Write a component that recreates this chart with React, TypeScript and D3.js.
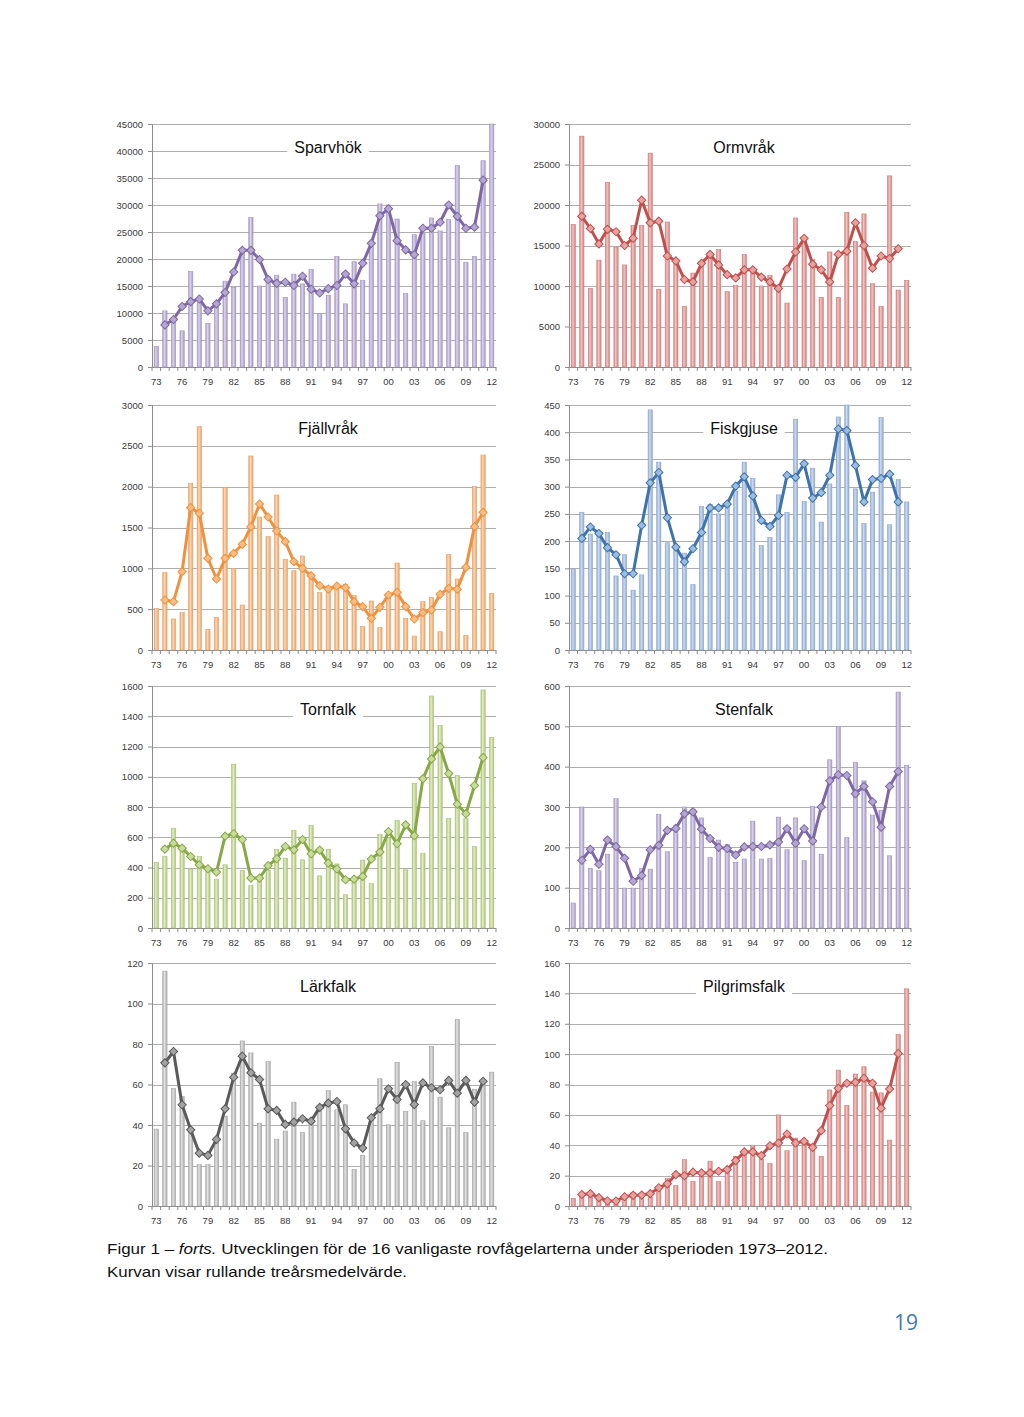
import { useEffect, useRef } from "react";
import * as d3 from "d3";

// Years 1973–2012, bars for every year; the rolling three-year mean runs 1974–2011
const YEARS = [
  1973, 1974, 1975, 1976, 1977, 1978, 1979, 1980, 1981, 1982,
  1983, 1984, 1985, 1986, 1987, 1988, 1989, 1990, 1991, 1992,
  1993, 1994, 1995, 1996, 1997, 1998, 1999, 2000, 2001, 2002,
  2003, 2004, 2005, 2006, 2007, 2008, 2009, 2010, 2011, 2012,
];
const LINE_YEARS = YEARS.slice(1, -1);

const SPARVHOK_BARS = [
  3800, 10400, 9200, 6700, 17700, 11900, 8100, 11200, 15900, 14800,
  22000, 27700, 15000, 16800, 17000, 12900, 17200, 15400, 18100, 9900,
  13300, 20500, 11700, 19500, 16000, 22300, 30200, 30000, 27400, 13600,
  24500, 24700, 27600, 25200, 27300, 37300, 19400, 20500, 38200, 45000,
];
const SPARVHOK_LINE = [
  7800, 8800, 11200, 12100, 12600, 10400, 11700, 13800, 17600, 21600,
  21600, 19900, 16200, 15500, 15700, 15100, 16800, 14400, 13700, 14500,
  15100, 17200, 15400, 19200, 22900, 28000, 29300, 23400, 21700, 20800,
  25700, 25700, 26800, 30000, 27900, 25700, 25900, 34600,
];
const SPARVHOK_TICKS = [0, 5000, 10000, 15000, 20000, 25000, 30000, 35000, 40000, 45000];

const ORMVRAK_BARS = [
  17600, 28500, 9700, 13200, 22800, 14800, 12600, 17500, 17500, 26400,
  9600, 17900, 13300, 7500, 11600, 12400, 14000, 14500, 9300, 10100,
  13900, 11800, 10000, 11300, 9900, 7900, 18400, 16000, 13300, 8600,
  14200, 8600, 19100, 15500, 18900, 10300, 7500, 23600, 9500, 10700,
];
const ORMVRAK_LINE = [
  18600, 17100, 15200, 17000, 16700, 15000, 15900, 20600, 17800, 18000,
  13700, 13100, 10800, 10500, 12800, 13900, 12600, 11400, 11000, 12000,
  12000, 11100, 10500, 9700, 12100, 14200, 15900, 12700, 12000, 10500,
  13900, 14300, 17800, 15000, 12200, 13700, 13400, 14600,
];
const ORMVRAK_TICKS = [0, 5000, 10000, 15000, 20000, 25000, 30000];

const FJALLVRAK_BARS = [
  510, 947, 380, 457, 2040, 2735, 253, 400, 1992, 1000,
  551, 2376, 1629, 1388, 1898, 1110, 971, 1151, 878, 702,
  760, 767, 800, 665, 290, 600, 278, 667, 1065, 388,
  171, 592, 645, 224, 1171, 870, 180, 2000, 2388, 694,
];
const FJALLVRAK_LINE = [
  612, 592, 959, 1743, 1673, 1122, 869, 1122, 1184, 1294,
  1510, 1788, 1629, 1457, 1327, 1082, 1000, 910, 788, 747,
  784, 763, 592, 531, 388, 522, 673, 706, 531, 380,
  457, 490, 682, 755, 743, 1012, 1510, 1686,
];
const FJALLVRAK_TICKS = [0, 500, 1000, 1500, 2000, 2500, 3000];

const FISKGJUSE_BARS = [
  149, 253, 213, 212, 216, 136, 175, 110, 138, 441,
  345, 197, 187, 178, 120, 264, 267, 250, 269, 291,
  345, 315, 192, 207, 285, 253, 424, 273, 334, 235,
  305, 428, 485, 296, 232, 290, 427, 230, 313, 272,
];
const FISKGJUSE_LINE = [
  205, 226, 214, 188, 175, 140, 140, 229, 307, 326,
  243, 189, 162, 186, 216, 261, 261, 268, 301, 318,
  283, 238, 227, 247, 321, 317, 342, 279, 289, 321,
  406, 403, 339, 272, 313, 315, 323, 272,
];
const FISKGJUSE_TICKS = [0, 50, 100, 150, 200, 250, 300, 350, 400, 450];

const TORNFALK_BARS = [
  434, 473, 660, 540, 390, 473, 391, 323, 418, 1083,
  381, 282, 327, 381, 521, 462, 645, 451, 678, 345,
  521, 424, 220, 316, 449, 293, 620, 599, 711, 385,
  957, 495, 1534, 1338, 726, 1008, 723, 539, 1574, 1261,
];
const TORNFALK_LINE = [
  522, 561, 528, 473, 418, 392, 370, 607, 623, 585,
  330, 330, 412, 458, 539, 517, 585, 491, 515, 429,
  390, 319, 323, 341, 456, 502, 638, 557, 682, 610,
  986, 1118, 1197, 1021, 819, 755, 942, 1127,
];
const TORNFALK_TICKS = [0, 200, 400, 600, 800, 1000, 1200, 1400, 1600];

const STENFALK_BARS = [
  62, 300, 148, 142, 183, 321, 99, 99, 147, 146,
  282, 189, 255, 300, 294, 273, 175, 218, 207, 163,
  171, 265, 171, 173, 275, 194, 273, 167, 302, 183,
  417, 499, 224, 411, 365, 280, 292, 179, 585, 403,
];
const STENFALK_LINE = [
  168, 195, 158, 218, 202, 173, 116, 130, 194, 205,
  242, 247, 283, 288, 245, 222, 200, 197, 181, 201,
  202, 202, 206, 213, 246, 210, 246, 216, 300, 365,
  380, 378, 333, 351, 313, 250, 351, 388,
];
const STENFALK_TICKS = [0, 100, 200, 300, 400, 500, 600];

const LARKFALK_BARS = [
  38, 116, 58, 54, 38, 20.5, 20.4, 34, 44.4, 65.6,
  81.5, 75.6, 40.9, 71.3, 33, 37, 51.3, 36.2, 41.5, 47,
  57, 47.5, 50, 18.1, 25, 43, 62.8, 40.1, 71, 46.7,
  61.5, 42.1, 78.9, 53.8, 38.6, 92.1, 36.2, 57.7, 60, 66.1,
];
const LARKFALK_LINE = [
  70.7, 76.3, 50.0, 37.6, 26.1, 25.0, 32.9, 48.0, 63.6, 74.0,
  65.8, 62.5, 48.0, 47.2, 40.3, 41.4, 43.1, 41.9, 48.7, 50.8,
  51.6, 38.1, 31.1, 28.6, 43.6, 48.0, 57.9, 52.6, 60.0, 50.1,
  60.8, 58.4, 57.4, 62.0, 55.7, 62.0, 51.3, 61.6,
];
const LARKFALK_TICKS = [0, 20, 40, 60, 80, 100, 120];

const PILGRIMSFALK_BARS = [
  5, 8, 9, 5, 1.5, 3, 5, 9, 6, 6,
  12, 18, 13.5, 30.5, 16.2, 19.7, 29.5, 16.2, 23, 32.8,
  34, 40, 31, 28.1, 60, 36.4, 44.7, 43.4, 39.7, 32.7,
  76.4, 89.5, 66.2, 86.9, 91.7, 75, 74.5, 43.4, 113.1, 143,
];
const PILGRIMSFALK_LINE = [
  7.6, 8.1, 5.5, 3.3, 3.3, 6.1, 7.0, 7.2, 8.1, 12.0,
  14.6, 20.7, 19.9, 22.3, 21.8, 21.8, 22.9, 24.0, 29.9, 35.6,
  35.6, 33.2, 39.7, 41.5, 47.4, 41.5, 42.6, 38.6, 49.6, 66.2,
  77.5, 80.8, 81.4, 84.1, 80.8, 64.4, 77.1, 100.4,
];
const PILGRIMSFALK_TICKS = [0, 20, 40, 60, 80, 100, 120, 140, 160];

// page layout (plot area edges in px)
const COLS = [
  { left: 152, right: 496 },
  { left: 569, right: 911 },
];
const ROWS = [
  { top: 124, bottom: 367 },
  { top: 405, bottom: 650 },
  { top: 686, bottom: 928 },
  { top: 963, bottom: 1206 },
];

const PURPLE = { fill: "#dcd5ea", edge: "#a497c4", stroke: "#7e67a6", marker: "#b4a8d2" };
const RED = { fill: "#f3c4c3", edge: "#d0807d", stroke: "#c0504d", marker: "#e6a3a1" };

interface PanelDef {
  id: string;
  title: string;
  bars: number[];
  line: number[];
  ticks: number[];
  col: number;
  row: number;
  colors: { fill: string; edge: string; stroke: string; marker: string };
}

const PANELS: PanelDef[] = [
  { id: "sparv", title: "Sparvhök", bars: SPARVHOK_BARS, line: SPARVHOK_LINE, ticks: SPARVHOK_TICKS, col: 0, row: 0, colors: PURPLE },
  { id: "ormv", title: "Ormvråk", bars: ORMVRAK_BARS, line: ORMVRAK_LINE, ticks: ORMVRAK_TICKS, col: 1, row: 0, colors: RED },
  {
    id: "fjall", title: "Fjällvråk", bars: FJALLVRAK_BARS, line: FJALLVRAK_LINE, ticks: FJALLVRAK_TICKS, col: 0, row: 1,
    colors: { fill: "#fad8b8", edge: "#e9a165", stroke: "#f0913d", marker: "#f8bd86" },
  },
  {
    id: "fisk", title: "Fiskgjuse", bars: FISKGJUSE_BARS, line: FISKGJUSE_LINE, ticks: FISKGJUSE_TICKS, col: 1, row: 1,
    colors: { fill: "#cddaee", edge: "#8ea9d0", stroke: "#3f73ae", marker: "#9dbde0" },
  },
  {
    id: "torn", title: "Tornfalk", bars: TORNFALK_BARS, line: TORNFALK_LINE, ticks: TORNFALK_TICKS, col: 0, row: 2,
    colors: { fill: "#e3edcc", edge: "#abc475", stroke: "#88a846", marker: "#c8dc9e" },
  },
  { id: "sten", title: "Stenfalk", bars: STENFALK_BARS, line: STENFALK_LINE, ticks: STENFALK_TICKS, col: 1, row: 2, colors: PURPLE },
  {
    id: "lark", title: "Lärkfalk", bars: LARKFALK_BARS, line: LARKFALK_LINE, ticks: LARKFALK_TICKS, col: 0, row: 3,
    colors: { fill: "#e3e3e3", edge: "#a8a8a8", stroke: "#5a5a5a", marker: "#a3a3a3" },
  },
  { id: "pilg", title: "Pilgrimsfalk", bars: PILGRIMSFALK_BARS, line: PILGRIMSFALK_LINE, ticks: PILGRIMSFALK_TICKS, col: 1, row: 3, colors: RED },
];

const TICK_FONT = "'Liberation Sans', Arial, sans-serif";

function Panel({ def }: { def: PanelDef }) {
  const ref = useRef<SVGGElement>(null);

  useEffect(() => {
    if (!ref.current) return;
    const g = d3.select(ref.current);
    g.selectAll("*").remove();

    const { left, right } = COLS[def.col];
    const { top, bottom } = ROWS[def.row];
    const c = def.colors;

    const x = d3
      .scaleBand<number>()
      .domain(YEARS)
      .range([left, right])
      .paddingInner(0.5)
      .paddingOuter(0.25);
    const cx = (yr: number) => (x(yr) ?? 0) + x.bandwidth() / 2;

    const y = d3
      .scaleLinear()
      .domain([0, def.ticks[def.ticks.length - 1]])
      .range([bottom, top])
      .clamp(true);

    // bar gradient (Excel-ish cylinder look)
    const gradId = `bar-grad-${def.id}`;
    const grad = g.append("defs").append("linearGradient")
      .attr("id", gradId)
      .attr("x1", "0").attr("y1", "0")
      .attr("x2", "1").attr("y2", "0");
    grad.append("stop").attr("offset", "0%").attr("stop-color", c.edge);
    grad.append("stop").attr("offset", "40%").attr("stop-color", c.fill);
    grad.append("stop").attr("offset", "100%").attr("stop-color", c.edge);

    // grid lines
    g.append("g")
      .selectAll("line")
      .data(def.ticks.filter((t) => t > 0))
      .join("line")
      .attr("x1", left)
      .attr("x2", right)
      .attr("y1", (d) => Math.round(y(d)) + 0.5)
      .attr("y2", (d) => Math.round(y(d)) + 0.5)
      .attr("stroke", "#a6a6a6")
      .attr("stroke-width", 0.9);

    // y axis
    g.append("g")
      .attr("transform", `translate(${left},0)`)
      .call(d3.axisLeft(y).tickValues(def.ticks).tickSize(4).tickPadding(5).tickFormat((d) => String(d)))
      .call((ax) => ax.select(".domain").attr("stroke", "#8c8c8c"))
      .call((ax) => ax.selectAll("line").attr("stroke", "#8c8c8c"))
      .call((ax) =>
        ax.selectAll("text").attr("fill", "#3a3a3a").attr("font-size", 9.5).attr("font-family", TICK_FONT),
      );

    // x axis: boundary ticks + labels every third year
    const step = x.step();
    const bounds = YEARS.map((yr) => (x(yr) ?? 0) - step * 0.25).concat([right]);
    const xa = g.append("g");
    xa.append("line")
      .attr("x1", left).attr("x2", right)
      .attr("y1", bottom + 0.5).attr("y2", bottom + 0.5)
      .attr("stroke", "#8c8c8c");
    xa.selectAll("line.tick")
      .data(bounds)
      .join("line")
      .attr("class", "tick")
      .attr("x1", (d) => d).attr("x2", (d) => d)
      .attr("y1", bottom).attr("y2", bottom + 4)
      .attr("stroke", "#8c8c8c");
    xa.selectAll("text")
      .data(YEARS.filter((_, i) => i % 3 === 0))
      .join("text")
      .attr("x", (d) => cx(d))
      .attr("y", bottom + 15)
      .attr("dy", "0.35em")
      .attr("text-anchor", "middle")
      .attr("fill", "#3a3a3a")
      .attr("font-size", 9.5)
      .attr("font-family", TICK_FONT)
      .text((d) => String(d).slice(2));

    // bars
    g.append("g")
      .selectAll("rect")
      .data(def.bars)
      .join("rect")
      .attr("x", (_, i) => x(YEARS[i]) ?? 0)
      .attr("width", x.bandwidth())
      .attr("y", (d) => y(d))
      .attr("height", (d) => bottom - y(d))
      .attr("fill", `url(#${gradId})`)
      .attr("stroke", c.edge)
      .attr("stroke-width", 0.6);

    // rolling mean line
    const pts = def.line.map((v, i) => [cx(LINE_YEARS[i]), y(v)] as [number, number]);
    g.append("path")
      .datum(pts)
      .attr("fill", "none")
      .attr("stroke", c.stroke)
      .attr("stroke-width", 3)
      .attr("stroke-linejoin", "round")
      .attr("d", d3.line());

    const diamond = d3.symbol().type(d3.symbolSquare).size(34)();
    g.append("g")
      .selectAll("path")
      .data(pts)
      .join("path")
      .attr("d", diamond)
      .attr("transform", (d) => `translate(${d[0]},${d[1]}) rotate(45)`)
      .attr("fill", c.marker)
      .attr("stroke", c.stroke)
      .attr("stroke-width", 1);

    // title with white box
    const tx = (left + right) / 2 + 4;
    const ty = top + 23;
    const tb = g.append("g");
    const rect = tb.append("rect").attr("fill", "#ffffff");
    const txt = tb.append("text")
      .attr("x", tx)
      .attr("y", ty)
      .attr("dy", "0.35em")
      .attr("text-anchor", "middle")
      .attr("font-size", 16)
      .attr("font-family", "'Liberation Sans', Arial, sans-serif")
      .attr("fill", "#111")
      .text(def.title);
    const w = (txt.node() as SVGTextElement).getComputedTextLength();
    rect
      .attr("x", tx - w / 2 - 7)
      .attr("y", ty - 10)
      .attr("width", w + 14)
      .attr("height", 20);
  }, [def]);

  return <g ref={ref} />;
}

export default function App() {
  return (
    <div style={{ position: "absolute", left: 0, top: 0 }}>
      <svg width={1024} height={1417} style={{ display: "block", background: "#fff" }}>
        {PANELS.map((p) => (
          <Panel key={p.id} def={p} />
        ))}
        <g fontFamily="'Liberation Sans Narrow', 'Liberation Sans', Arial, sans-serif" fontSize={15} fill="#111">
          <text x={107} y={1254} textLength={721} lengthAdjust="spacingAndGlyphs">
            Figur 1 – <tspan fontStyle="italic">forts.</tspan> Utvecklingen för de 16 vanligaste rovfågelarterna under årsperioden 1973–2012.
          </text>
          <text x={107} y={1277} textLength={300} lengthAdjust="spacingAndGlyphs">
            Kurvan visar rullande treårsmedelvärde.
          </text>
        </g>
        <text x={918} y={1330} textAnchor="end" fontSize={21} fontFamily="'Open Sans', Lato, sans-serif" fill="#3f78b5">
          19
        </text>
      </svg>
    </div>
  );
}
